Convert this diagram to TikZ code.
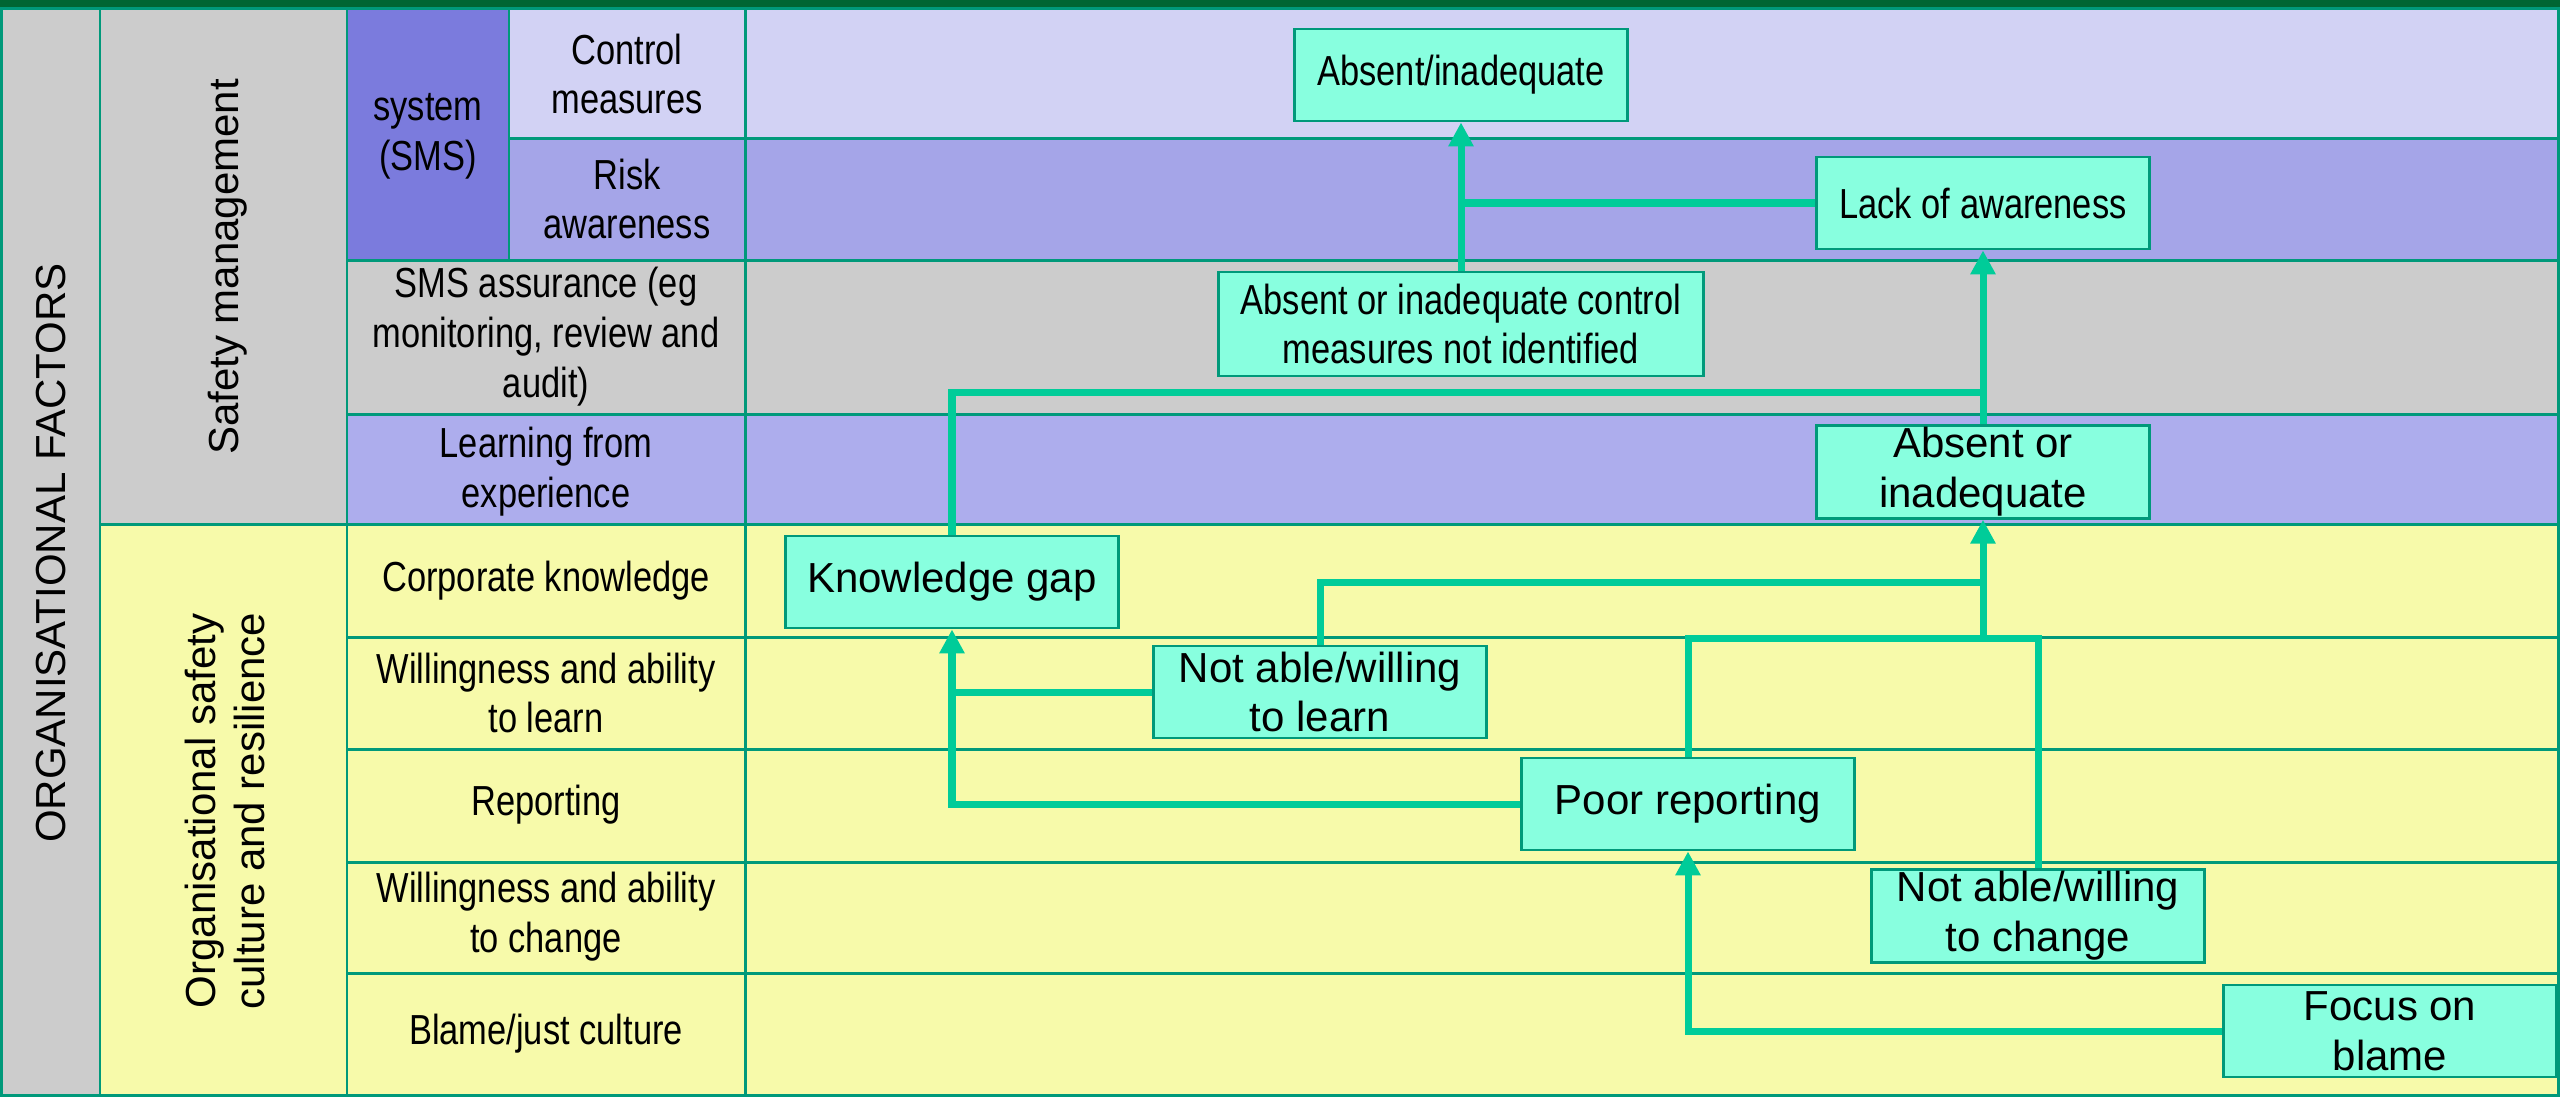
\documentclass[tikz,border=0pt]{standalone}
\usepackage{fontspec}
\setmainfont{Liberation Sans}
\newfontfamily\narrowfont[FakeStretch=0.82]{Liberation Sans}
\usetikzlibrary{arrows.meta}

\definecolor{topgreen}{HTML}{006633}
\definecolor{gridteal}{HTML}{00997A}
\definecolor{cellgray}{HTML}{CCCCCC}
\definecolor{smsblue}{HTML}{7B7BDD}
\definecolor{ctrlblue}{HTML}{D2D2F4}
\definecolor{riskblue}{HTML}{A5A5E8}
\definecolor{learnblue}{HTML}{ADADED}
\definecolor{cultyellow}{HTML}{F7FAAA}
\definecolor{boxfill}{HTML}{88FFDF}
\definecolor{flowgreen}{HTML}{00CC99}

\begin{document}
\begin{tikzpicture}[
    font=\fontsize{11.95}{14.2}\selectfont,
    gridrule/.style={draw=gridteal, line width=0.85pt},
    celltext/.style={align=center, font=\narrowfont\fontsize{11.95}{14.2}\selectfont},
    sidetext/.style={align=center, rotate=90},
    causebox/.style={draw=gridteal, line width=0.8pt, fill=boxfill, align=center,
      minimum width=3.33cm, minimum height=0.92cm, inner sep=0.5pt},
    narrowbox/.style={causebox, font=\narrowfont\fontsize{11.95}{14.2}\selectfont},
    link/.style={draw=flowgreen, line width=2pt},
    flow/.style={link, -{Triangle[length=0.24cm,width=0.24cm]}}]
  \useasboundingbox (0,0) rectangle (25.6,-10.96);

  % background of the table
  \fill[topgreen] (0,0) rectangle (25.6,-0.08);
  \fill[cellgray] (0,-0.09) rectangle (3.47,-5.24);
  \fill[cellgray] (0,-5.24) rectangle (1.00,-10.95);
  \fill[cultyellow] (1.00,-5.24) rectangle (25.58,-10.95);
  \fill[smsblue] (3.47,-0.09) rectangle (5.09,-2.60);
  \fill[ctrlblue] (5.09,-0.09) rectangle (25.58,-1.38);
  \fill[riskblue] (5.09,-1.38) rectangle (25.58,-2.60);
  \fill[cellgray] (3.47,-2.60) rectangle (25.58,-4.14);
  \fill[learnblue] (3.47,-4.14) rectangle (25.58,-5.24);

  \draw[gridrule] (0.015,-0.085) rectangle (25.585,-10.95);
  \draw[gridrule] (1.00,-0.09) -- (1.00,-10.95);
  \draw[gridrule] (3.47,-0.09) -- (3.47,-10.95);
  \draw[gridrule] (5.09,-0.09) -- (5.09,-2.60);
  \draw[gridrule] (7.45,-0.09) -- (7.45,-10.95);
  \draw[gridrule] (5.09,-1.38) -- (25.58,-1.38);
  \draw[gridrule] (3.47,-2.60) -- (25.58,-2.60);
  \draw[gridrule] (3.47,-4.14) -- (25.58,-4.14);
  \draw[gridrule] (1.00,-5.24) -- (25.58,-5.24);
  \foreach \y in {6.37,7.49,8.62,9.73}
    \draw[gridrule] (3.47,-\y) -- (25.58,-\y);

  % row and column headings
  \node[sidetext] (factors) at (0.51,-5.53) {ORGANISATIONAL FACTORS};
  \node[sidetext] (safety) at (2.28,-2.67) {Safety management};
  \node[sidetext] (culture) at (2.25,-8.11) {Organisational safety\\culture and resilience};
  \node[celltext] (sms) at (4.28,-1.36) {system\\(SMS)};
  \node[celltext] (control) at (6.27,-0.74) {Control\\measures};
  \node[celltext] (risk) at (6.27,-1.99) {Risk\\awareness};
  \node[celltext] (assure) at (5.46,-3.37) {SMS assurance (eg\\monitoring, review and\\audit)};
  \node[celltext] (experience) at (5.46,-4.72) {Learning from\\experience};
  \node[celltext] (corporate) at (5.46,-5.81) {Corporate knowledge};
  \node[celltext] (willlearn) at (5.46,-6.93) {Willingness and ability\\to learn};
  \node[celltext] (reporting) at (5.46,-8.05) {Reporting};
  \node[celltext] (willchange) at (5.46,-9.17) {Willingness and ability\\to change};
  \node[celltext] (justculture) at (5.46,-10.34) {Blame/just culture};

  % findings
  \node[narrowbox] (inad) at (14.61,-0.75) {Absent/inadequate};
  \node[narrowbox] (lack) at (19.83,-2.03) {Lack of awareness};
  \node[narrowbox, minimum width=4.85cm, minimum height=1.04cm] (ctrl) at (14.61,-3.24)
    {Absent or inadequate control\\measures not identified};
  \node[causebox] (absent) at (19.83,-4.72) {Absent or\\inadequate};
  \node[causebox] (gap) at (9.52,-5.82) {Knowledge gap};
  \node[causebox] (learn) at (13.20,-6.92) {Not able/willing\\to learn};
  \node[causebox] (poor) at (16.88,-8.04) {Poor reporting};
  \node[causebox] (change) at (20.38,-9.16) {Not able/willing\\to change};
  \node[causebox] (blame) at (23.90,-10.31) {Focus on\\blame};

  \coordinate (jgap) at (19.83,-3.92);
  \coordinate (jlearn) at (19.83,-5.82);
  \coordinate (jrep) at (19.83,-6.38);

  \draw[flow] (blame.west) -| (poor.south);
  \draw[flow] (poor.west) -| (gap.south);
  \draw[link] (learn.west) -- (learn.west -| gap.south);
  \draw[flow] (poor.north) |- (jrep) -- (absent.south);
  \draw[link] (change.north) |- (jrep);
  \draw[link] (learn.north) |- (jlearn);
  \draw[flow] (gap.north) |- (jgap) -- (lack.south);
  \draw[link] (absent.north) -- (jgap);
  \draw[flow] (lack.west) -| (inad.south);
  \draw[link] (ctrl.north) -- (ctrl.north |- lack.west);
\end{tikzpicture}
\end{document}
